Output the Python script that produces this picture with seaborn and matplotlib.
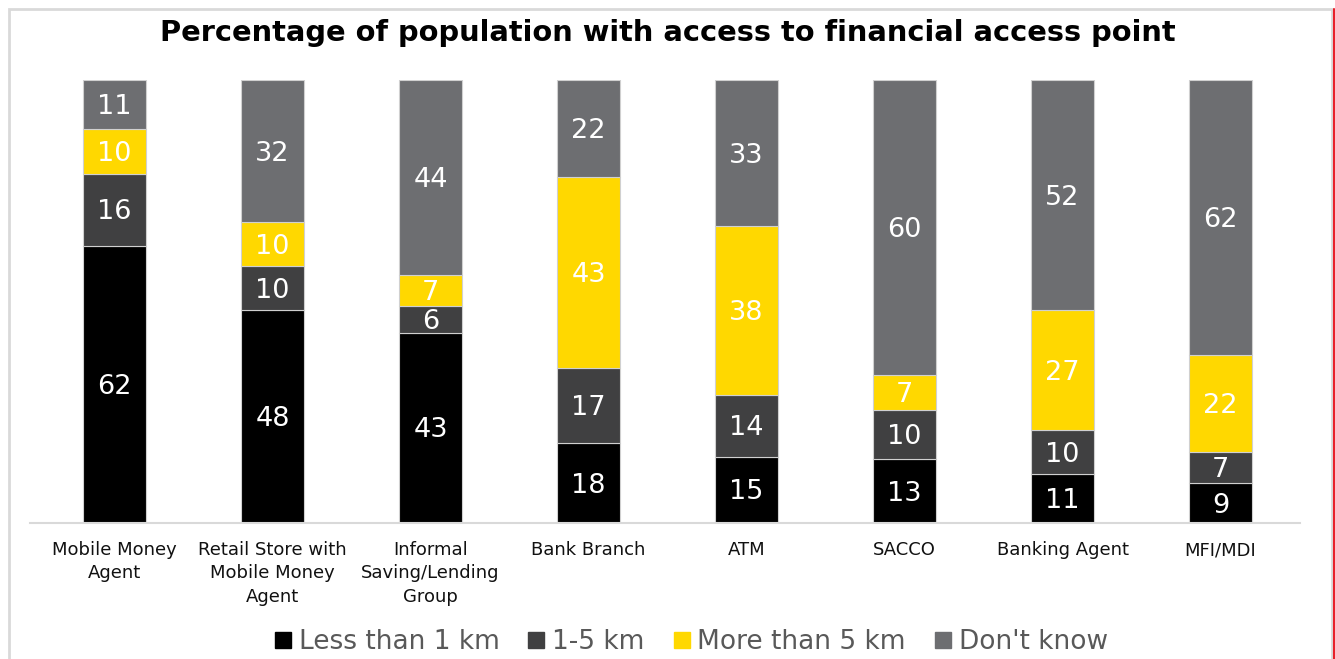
import numpy as np
import pandas as pd
import matplotlib
matplotlib.use("Agg")
import matplotlib.pyplot as plt
from matplotlib.lines import Line2D
from matplotlib.patches import Rectangle
import seaborn as sns

categories = ["Mobile Money\nAgent", "Retail Store with\nMobile Money\nAgent",
              "Informal\nSaving/Lending\nGroup", "Bank Branch", "ATM", "SACCO",
              "Banking Agent", "MFI/MDI"]
less_1km = [62, 48, 43, 18, 15, 13, 11, 9]
km_1_5 = [16, 10, 6, 17, 14, 10, 10, 7]
more_5km = [10, 10, 7, 43, 38, 7, 27, 22]
dont_know = [11, 32, 44, 22, 33, 60, 52, 62]
series_names = ["Less than 1 km", "1-5 km", "More than 5 km", "Don't know"]
colors = ["#000000", "#404041", "#FFD800", "#6D6E71"]

sns.set_theme(style="white")
plt.rcParams['font.family'] = ['DejaVu Sans']

raw = np.array([less_1km, km_1_5, more_5km, dont_know], dtype=float)
pct = raw / raw.sum(axis=0) * 100

fig = plt.figure(figsize=(13.35, 6.59), dpi=100)
W, H = 1335, 659
ax = fig.add_axes([30 / W, (H - 523) / H, (1300 - 30) / W, (523 - 80) / H])

bottom = np.zeros(len(categories))
for i, name in enumerate(series_names):
    df = pd.DataFrame({"cat": categories, "val": pct[i]})
    sns.barplot(data=df, x="cat", y="val", color=colors[i], width=0.4,
                bottom=bottom, edgecolor="#d0d0d0", linewidth=0.8,
                saturation=1, ax=ax, order=categories)
    for j in range(len(categories)):
        ax.text(j, bottom[j] + pct[i][j] / 2 - 0.6, f"{int(raw[i][j])}",
                ha="center", va="center", color="white", fontsize=19.5)
    bottom = bottom + pct[i]

ax.set_xlim(-0.535, 7.503)
ax.set_ylim(0, 100)
ax.set_yticks([])
ax.set_xlabel("")
ax.set_ylabel("")
for s in ["top", "right", "left"]:
    ax.spines[s].set_visible(False)
ax.spines["bottom"].set_color("#d9d9d9")
ax.spines["bottom"].set_linewidth(1.5)
ax.tick_params(axis="x", length=0, pad=13, labelsize=13, labelcolor="#111111")
for lbl in ax.get_xticklabels():
    lbl.set_linespacing(1.38)

fig.text(0.5, (H - 33) / H, "Percentage of population with access to financial access point",
         ha="center", va="center", fontsize=20.8, fontweight="bold", color="black")

handles = [Line2D([0], [0], marker="s", linestyle="none", markersize=11,
                  markerfacecolor=c, markeredgecolor=c) for c in colors]
fig.legend(handles, series_names, loc="center", bbox_to_anchor=(690 / W, (H - 642) / H),
           ncol=4, frameon=False, fontsize=19, labelcolor="#595959",
           handletextpad=0.2, columnspacing=1.0, handlelength=0.8)

# outer frame
fig.patches.append(Rectangle((9 / W, -0.05), (1332 - 9) / W, (H - 9) / H + 0.05,
                             transform=fig.transFigure, fill=False,
                             edgecolor="#d9d9d9", linewidth=2))
fig.lines.append(Line2D([1334 / W, 1334 / W], [0, (H - 9) / H], transform=fig.transFigure,
                        color="#e8202a", linewidth=1.5))

fig.savefig("out.png", dpi=100)
